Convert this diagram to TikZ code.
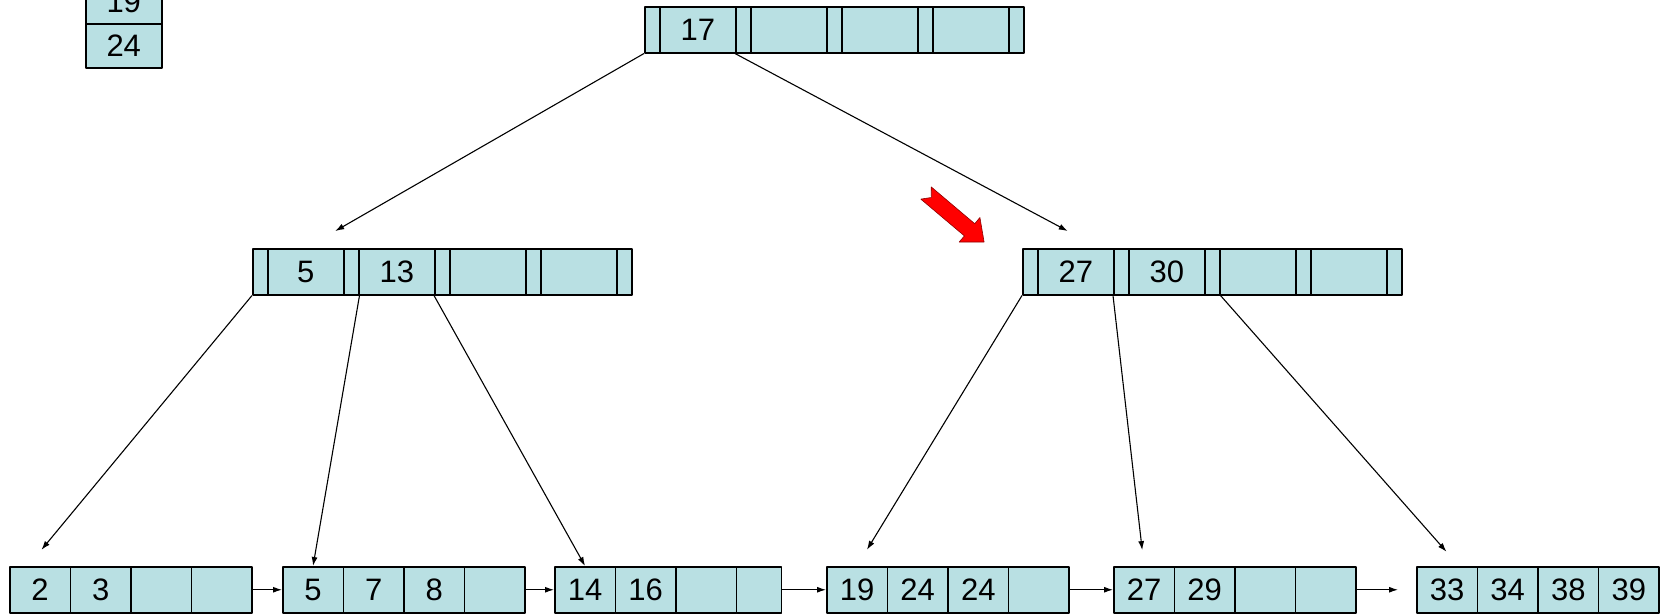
\documentclass[tikz,border=0pt]{standalone}
\usepackage{fontspec}
\setmainfont{Liberation Sans}
\usetikzlibrary{arrows.meta}
\definecolor{cellblue}{HTML}{B9E0E3}
\definecolor{hotred}{HTML}{FF0000}
\tikzset{px/.style={x=1pt,y=-1pt,line join=round},
  box/.style={draw,fill=cellblue,line width=1.5pt,inner sep=0pt,anchor=north west,
    minimum height=46pt,font=\fontsize{31}{31}\selectfont},
  ptr/.style={box,minimum width=15pt},
  key/.style={box,minimum width=76pt},
  leafcell/.style={box,minimum width=#1},
  link/.style={line width=1.1pt,-{Latex[length=9pt,width=6pt]}}}

\begin{document}
\begin{tikzpicture}[px]
  \useasboundingbox (0,0) rectangle (1664,614);
  \clip (0,0) rectangle (1664,614);
  % spare keys, top left
  \node[key,minimum height=44pt] (s-1) at (85,-21) {19};
  \node[key,minimum height=44pt] (s-2) at (85,23) {24};
  % root
  \foreach \i/\t in {0/17,1/{},2/{},3/{}}{
    \node[ptr] (r-p\i) at (644+\i*91,6) {};
    \node[key] (r-k\i) at (659+\i*91,6) {\t};}
  \node[ptr] (r-p4) at (1008,6) {};
  % inner nodes
  \foreach \i/\t in {0/5,1/13,2/{},3/{}}{
    \node[ptr] (a-p\i) at (252+\i*91,248) {};
    \node[key] (a-k\i) at (267+\i*91,248) {\t};}
  \node[ptr] (a-p4) at (616,248) {};
  \foreach \i/\t in {0/27,1/30,2/{},3/{}}{
    \node[ptr] (b-p\i) at (1022+\i*91,248) {};
    \node[key] (b-k\i) at (1037+\i*91,248) {\t};}
  \node[ptr] (b-p4) at (1386,248) {};
  % leaves
  \foreach \n/\x/\lw/\keys in {1/9/60.6/{2,3,{},{}},2/282/60.6/{5,7,8,{}},
      3/554/45/{14,16,{},{}},4/826/60.6/{19,24,24,{}},
      5/1113/60.6/{27,29,{},{}},6/1416/60.6/{33,34,38,39}}{
    \foreach \t [count=\j] in \keys {
      \pgfmathsetmacro\w{\j==4 ? \lw : 60.6}
      \node[leafcell=\w pt] (l\n-c\j) at (\x+\j*60.6-60.6,566) {\t};}}
  \foreach \n [evaluate=\n as \m using int(\n+1)] in {1,...,4}
    \draw[link] (l\n-c4.east) -- (l\m-c1.west);
  \draw[link,shorten >=18pt] (l5-c4.east) -- (l6-c1.west);
  % tree pointers
  \draw[link,shorten >=34pt] (r-p0.south west) -- (a-k0.north);
  \draw[link,shorten >=36pt] (r-p1.south west) -- ([xshift=-15pt]b-k0.north east);
  \draw[link,shorten >=21pt] (a-p0.south west) -- ([xshift=-12pt]l1-c1.north);
  \draw[link] (a-p1.south east) -- (l2-c1.north);
  \draw[link] (a-p2.south west) -- (l3-c1.north);
  \draw[link,shorten >=19pt] (b-p0.south west) -- (l4-c1.north);
  \draw[link,shorten >=16pt] (b-p1.south west) -- (l5-c1.north);
  \draw[link,shorten >=19pt] (b-p2.south east) -- ([xshift=12pt]l6-c1.north);
  % red marker
  \filldraw[fill=hotred,draw=red!55!black,line width=.6pt] (931.2,186.9) -- (974.7,223.7)
    -- (979.9,217.5) -- (984.1,242) -- (959.2,242) -- (964.4,235.9) -- (920.8,199.1)
    -- (931.3,197.5) -- cycle;
\end{tikzpicture}
\end{document}
